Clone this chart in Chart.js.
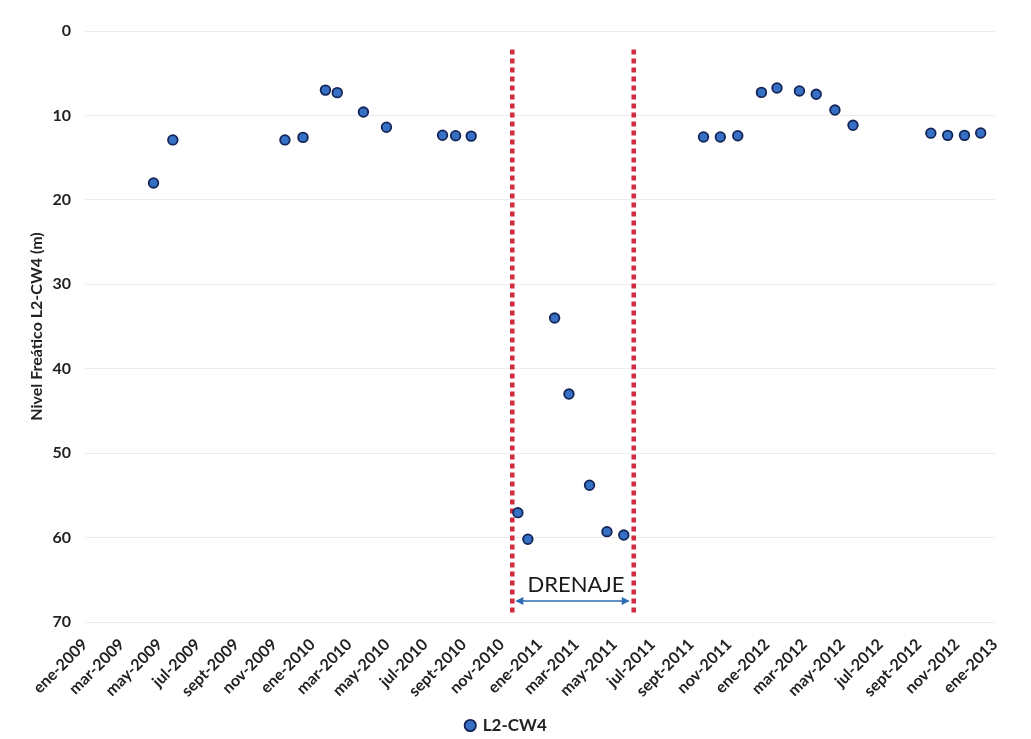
<!DOCTYPE html>
<html><head><meta charset="utf-8">
<script src="https://cdn.jsdelivr.net/npm/chart.js@4/dist/chart.umd.min.js"></script>
<style>html,body{margin:0;padding:0;background:#fff;overflow:hidden}</style>
</head><body>
<canvas id="c" width="1031" height="739"></canvas>
<script>
const seriesName = 'L2-CW4';
const sampleDates = ['2009-04-21','2009-05-22','2009-11-18','2009-12-17','2010-01-22','2010-02-10','2010-03-24','2010-04-30','2010-07-29','2010-08-19','2010-09-13','2010-11-27','2010-12-13','2011-01-25','2011-02-17','2011-03-22','2011-04-19','2011-05-16','2011-09-21','2011-10-18','2011-11-15','2011-12-23','2012-01-17','2012-02-22','2012-03-20','2012-04-19','2012-05-18','2012-09-20','2012-10-17','2012-11-13','2012-12-09'];
const waterLevels = [18.0,12.9,12.9,12.6,7.0,7.3,9.6,11.4,12.35,12.4,12.45,57.05,60.2,34.0,43.0,53.8,59.3,59.7,12.55,12.55,12.4,7.27,6.75,7.1,7.5,9.36,11.17,12.1,12.36,12.36,12.08];
const drainageDates = ['2010-11-18','2011-06-01'];
const drainageLabel = 'DRENAJE';
const drainageLineTop = 2.2, drainageLineBottom = 69.0, drainageArrowLevel = 67.5, drainageTextLevel = 65.6;
const tickDates = ['2009-01-01','2009-03-01','2009-05-01','2009-07-01','2009-09-01','2009-11-01','2010-01-01','2010-03-01','2010-05-01','2010-07-01','2010-09-01','2010-11-01','2011-01-01','2011-03-01','2011-05-01','2011-07-01','2011-09-01','2011-11-01','2012-01-01','2012-03-01','2012-05-01','2012-07-01','2012-09-01','2012-11-01','2013-01-01'];
const tickLabels = ['ene-2009','mar-2009','may-2009','jul-2009','sept-2009','nov-2009','ene-2010','mar-2010','may-2010','jul-2010','sept-2010','nov-2010','ene-2011','mar-2011','may-2011','jul-2011','sept-2011','nov-2011','ene-2012','mar-2012','may-2012','jul-2012','sept-2012','nov-2012','ene-2013'];
const yMin = 0, yMax = 70, yStep = 10;
const yTitle = 'Nivel Freático L2-CW4 (m)';

const ORIGIN = Date.UTC(2009,0,1);
function dayNum(s){ const [y,m,d] = s.split('-').map(Number); return (Date.UTC(y,m-1,d) - ORIGIN)/86400000; }

const points = sampleDates.map((d,i)=>({x:dayNum(d), y:waterLevels[i]}));
const redLine = d => [{x:dayNum(d), y:drainageLineTop},{x:dayNum(d), y:drainageLineBottom}];

const PAD_LEFT = 18, PAD_BOTTOM = -5, AREA_LEFT = 85, AREA_BOTTOM = 622;

const drainPlugin = {
  id:'drain',
  afterDatasetsDraw(chart){
    const {ctx, scales:{x,y}} = chart;
    const x1 = x.getPixelForValue(dayNum(drainageDates[0]));
    const x2 = x.getPixelForValue(dayNum(drainageDates[1]));
    const ya = y.getPixelForValue(drainageArrowLevel);
    const a = x1 + 3, b = x2 - 4;
    ctx.save();
    ctx.strokeStyle = '#2e6db4'; ctx.fillStyle = '#2e6db4'; ctx.lineWidth = 1.5;
    ctx.beginPath(); ctx.moveTo(a+5, ya); ctx.lineTo(b-5, ya); ctx.stroke();
    ctx.beginPath(); ctx.moveTo(a, ya); ctx.lineTo(a+8, ya-4); ctx.lineTo(a+8, ya+4); ctx.closePath(); ctx.fill();
    ctx.beginPath(); ctx.moveTo(b, ya); ctx.lineTo(b-8, ya-4); ctx.lineTo(b-8, ya+4); ctx.closePath(); ctx.fill();
    ctx.fillStyle = '#1a1a1a'; ctx.font = '22px Lato'; ctx.textAlign = 'center'; ctx.textBaseline = 'middle';
    ctx.fillText(drainageLabel, (x1+x2)/2 + 3, y.getPixelForValue(drainageTextLevel));
    ctx.restore();
  }
};

const redStyle = {type:'line', showLine:true, borderColor:'#d22a3e', borderWidth:4.5, borderDash:[5,4], borderCapStyle:'butt', pointRadius:0, fill:false, order:2};

new Chart(document.getElementById('c'), {
  type:'scatter',
  data:{datasets:[
    {label:seriesName, data:points, pointRadius:4.8, pointHoverRadius:4.8, pointBackgroundColor:'#3570c4', pointBorderColor:'#142456', pointBorderWidth:1.8, order:1},
    Object.assign({label:'_d1', data:redLine(drainageDates[0])}, redStyle),
    Object.assign({label:'_d2', data:redLine(drainageDates[1])}, redStyle)
  ]},
  options:{
    responsive:false, animation:false, devicePixelRatio:1,
    layout:{padding:{top:31, right:36, left:PAD_LEFT, bottom:PAD_BOTTOM}},
    plugins:{
      tooltip:{enabled:false},
      legend:{position:'bottom', labels:{usePointStyle:true, boxWidth:8, boxHeight:8, padding:6, color:'#222', font:{family:'Lato', weight:'bold', size:17}, filter:(it)=>it.text===seriesName}}
    },
    scales:{
      x:{type:'linear', min:dayNum(tickDates[0]), max:dayNum(tickDates[tickDates.length-1]),
        afterBuildTicks:(s)=>{ s.ticks = tickDates.map(d=>({value:dayNum(d)})); },
        afterFit:(s)=>{ const lh = s.chart.legend ? s.chart.legend.height : 0; s.height = s.chart.height - AREA_BOTTOM - lh - PAD_BOTTOM; },
        ticks:{autoSkip:false, maxRotation:45, minRotation:45, padding:5, color:'#222', font:{family:'Lato', weight:'bold', size:16}, callback:(v,i)=>tickLabels[i]},
        grid:{display:false}, border:{display:false}},
      y:{reverse:true, min:yMin, max:yMax,
        afterFit:(s)=>{ s.width = AREA_LEFT - PAD_LEFT; },
        ticks:{stepSize:yStep, padding:14, color:'#222', font:{family:'Lato', weight:'bold', size:16}},
        grid:{color:'#ececec', drawTicks:false}, border:{display:false},
        title:{display:true, text:yTitle, color:'#222', font:{family:'Lato', weight:'bold', size:16}, padding:{top:9, bottom:0}}}
    }
  },
  plugins:[drainPlugin]
});
</script>
</body></html>
